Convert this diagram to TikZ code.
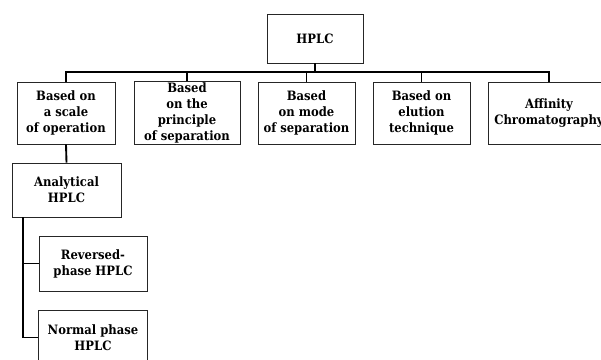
\documentclass[tikz,border=0pt]{standalone}
\usepackage{fontspec}
\setmainfont{DejaVu Serif Condensed}
\usetikzlibrary{shadows}
\begin{document}
\begin{tikzpicture}[x=0.03cm, y=-0.03cm, font=\bfseries\fontsize{11}{13.6}\selectfont,
        box/.style={draw=black!85, line width=0.6pt, fill=white, align=center, inner sep=1pt,
                    drop shadow={shadow xshift=0.8pt, shadow yshift=-0.8pt, fill=black!45}},
        conn/.style={line width=1.6pt}]
        \clip (0,0) rectangle (601,359);
        \node[box, minimum width=2.88cm, minimum height=1.47cm] (hplc) at (315,38.5) {HPLC};
        \node[box, minimum width=2.94cm, minimum height=1.86cm] (scale) at (66,113) {Based on\\a scale\\of operation};
        \node[box, minimum width=3.18cm, minimum height=1.86cm] (principle) at (187,113) {Based\\on the\\principle\\of separation};
        \node[box, minimum width=2.91cm, minimum height=1.86cm] (mode) at (306.5,113) {Based\\on mode\\of separation};
        \node[box, minimum width=2.91cm, minimum height=1.86cm] (elution) at (421.5,113) {Based on\\elution\\technique};
        \node[box, minimum width=3.66cm, minimum height=1.86cm] (affinity) at (549,113) {Affinity\\Chromatography};
        \node[box, minimum width=3.27cm, minimum height=1.62cm] (analytical) at (66.5,190) {Analytical\\HPLC};
        \node[box, minimum width=3.24cm, minimum height=1.65cm] (reversed) at (93,263.5) {Reversed-\\phase HPLC};
        \node[box, minimum width=3.27cm, minimum height=1.65cm] (normal) at (93,337.5) {Normal phase\\HPLC};
        % bus under HPLC
        \coordinate (bus) at (0,72);
        \draw[conn] (hplc.south) -- (hplc.south |- bus);
        \draw[conn] (scale.north) |- (bus -| affinity.north) -- (affinity.north);
        \foreach \n in {principle, mode, elution}
            \draw[conn] (\n.north) -- (\n.north |- bus);
        \draw[conn] (scale.south) -- (analytical.north);
        % left trunk
        \coordinate (trunk) at ([xshift=0.33cm]analytical.south west);
        \draw[conn] (trunk) |- (normal.west);
        \draw[conn] (trunk |- reversed.west) -- (reversed.west);
\end{tikzpicture}
\end{document}
